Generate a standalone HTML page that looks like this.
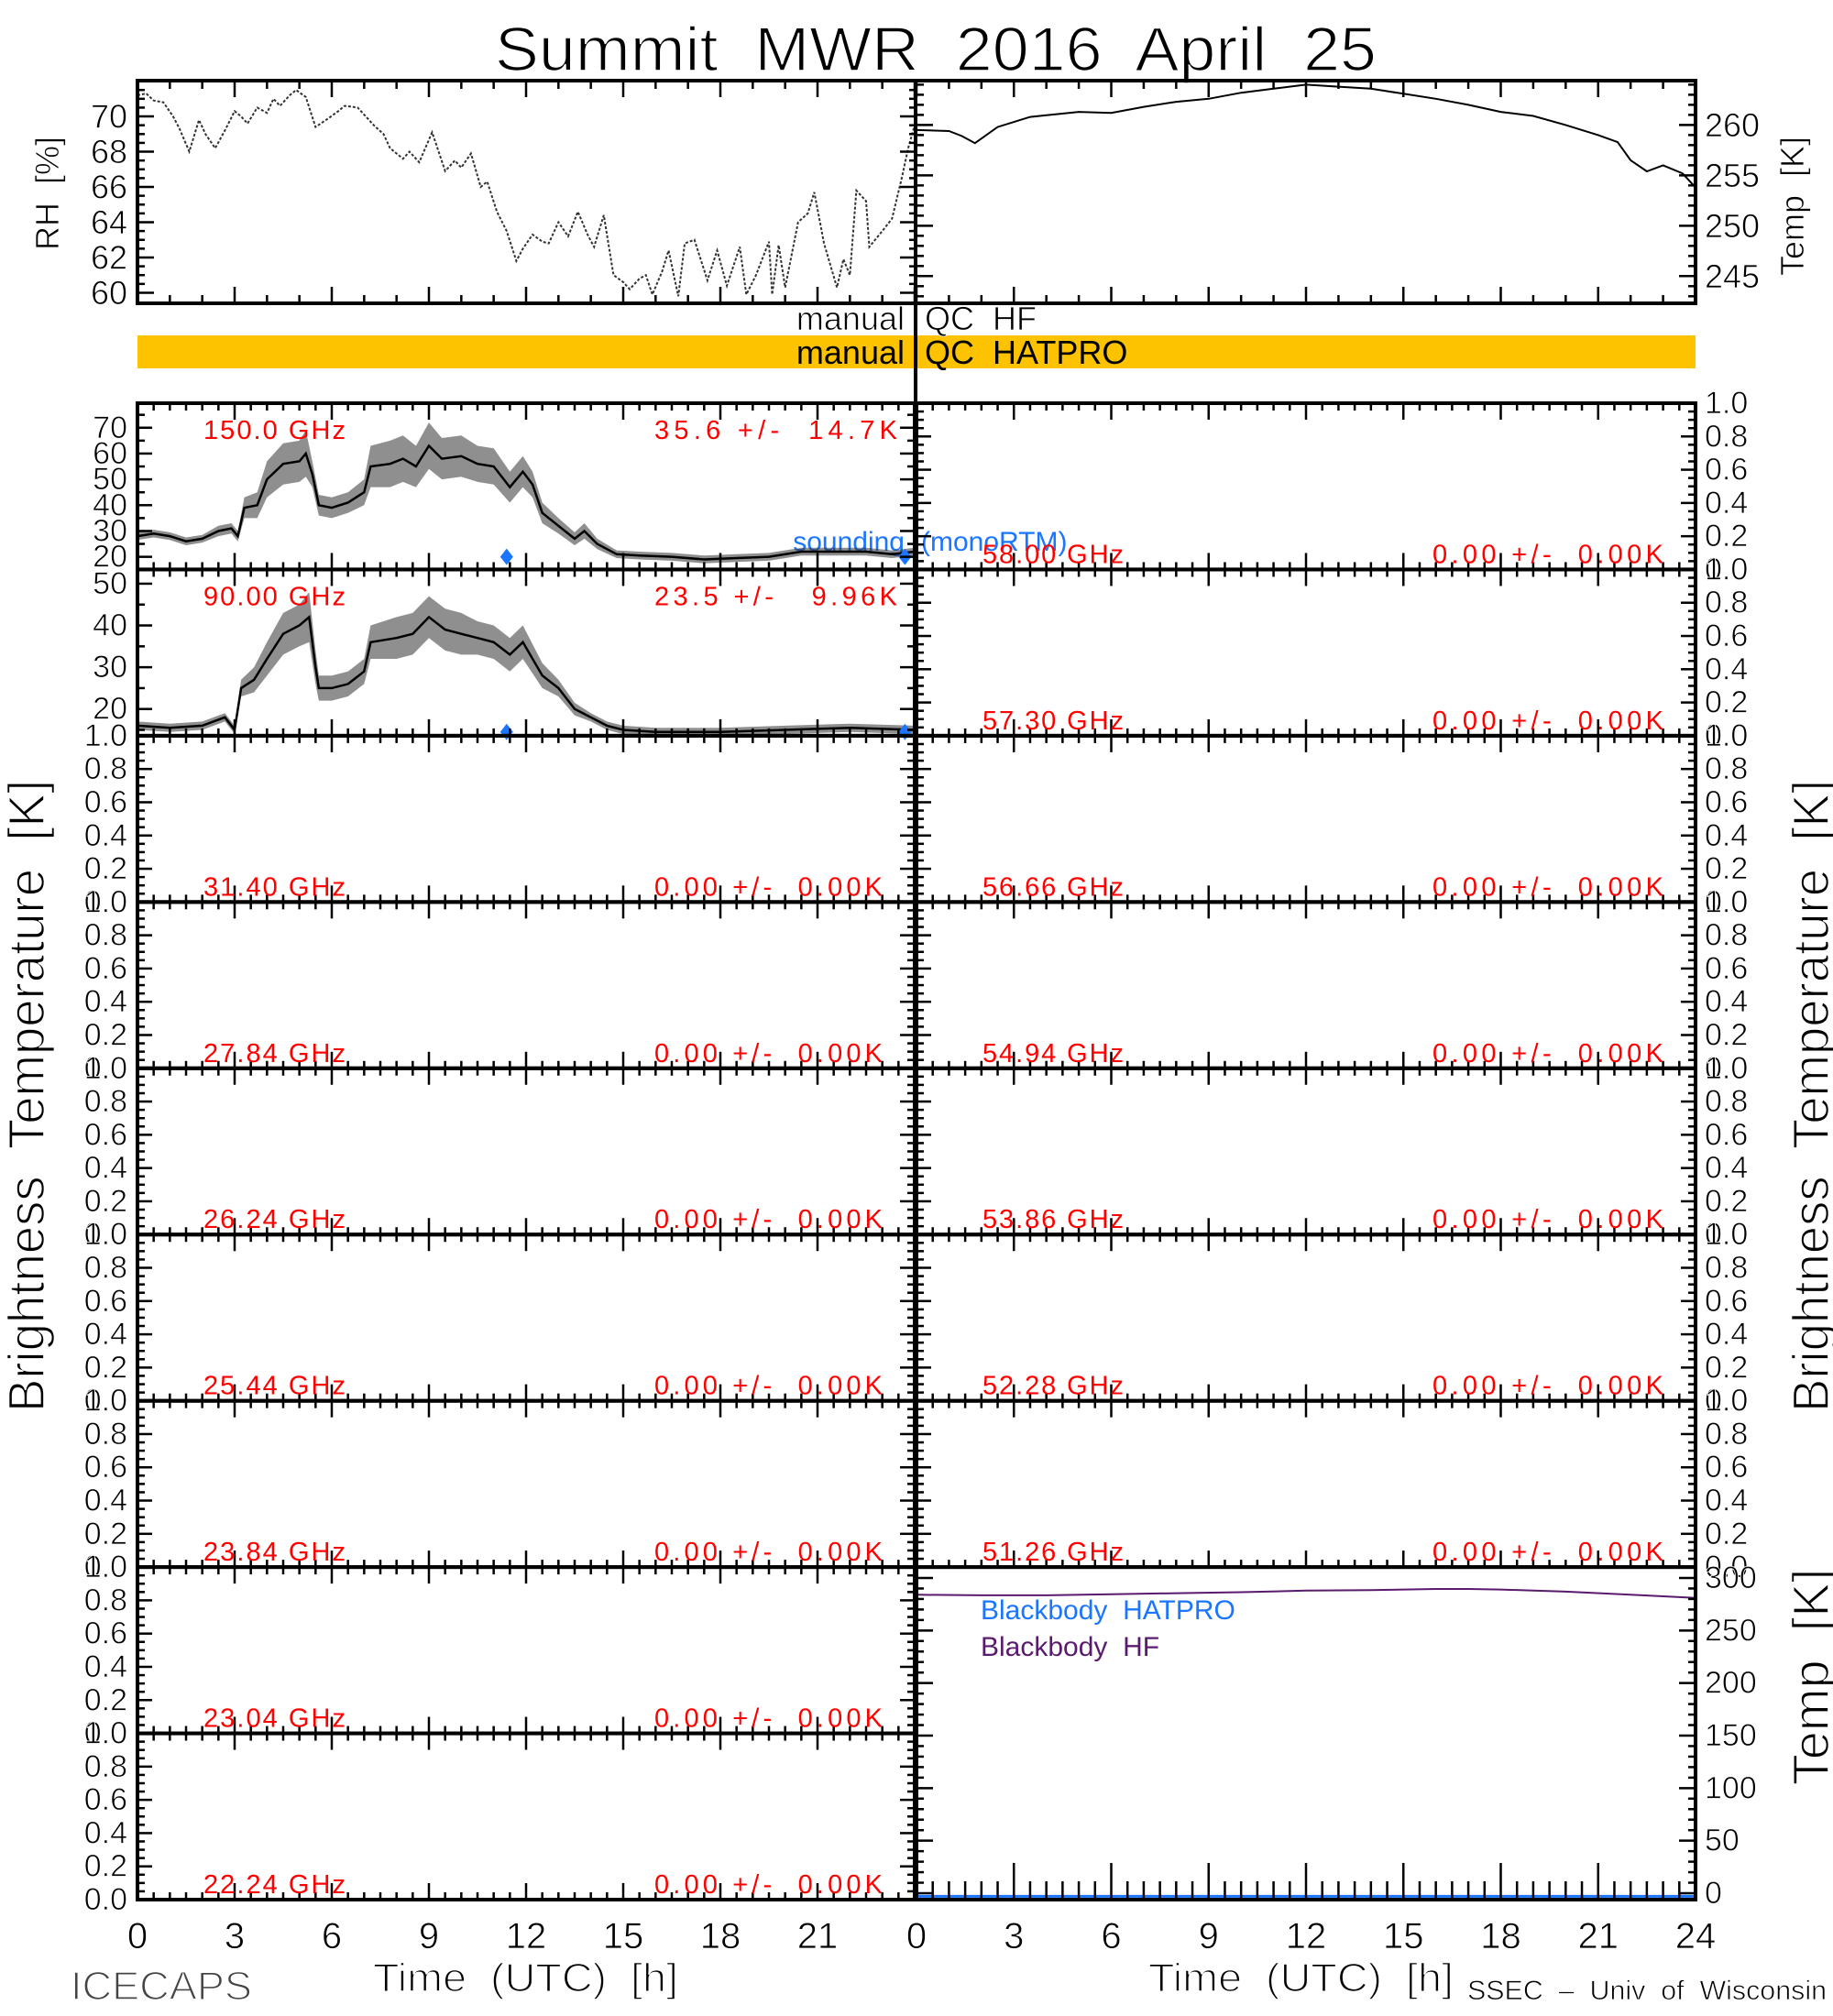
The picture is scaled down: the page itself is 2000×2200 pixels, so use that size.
<!DOCTYPE html>
<html><head><meta charset="utf-8"><style>
html,body{margin:0;padding:0;background:#fff;}
svg{display:block;}
text{font-family:"Liberation Sans Narrow","Liberation Sans",sans-serif;white-space:pre;}
.thin{stroke:#fff;stroke-width:1.6px;}
.thin2{stroke:#fff;stroke-width:0.8px;}
</style></head><body>
<svg id="chart" width="2000" height="2200" viewBox="0 0 2000 2200" xmlns="http://www.w3.org/2000/svg">
<rect x="0" y="0" width="2000" height="2200" fill="#fff"/>
<text class="thin" x="540" y="77" font-size="68" textLength="962" lengthAdjust="spacingAndGlyphs" font-family="Liberation Sans">Summit  MWR  2016  April  25</text>
<rect x="150" y="366" width="1700" height="36" fill="#FDC300"/>
<text class="thin2" x="987" y="360" font-size="36" text-anchor="end">manual</text>
<text class="thin2" x="1009" y="360" font-size="36">QC  HF</text>
<text x="987" y="397" font-size="36" text-anchor="end">manual</text>
<text x="1009" y="397" font-size="36">QC  HATPRO</text>
<text class="thin2" transform="translate(64,211) rotate(-90)" font-size="36" text-anchor="middle">RH  [%]</text>
<text class="thin2" transform="translate(1968,225) rotate(-90)" font-size="36" text-anchor="middle">Temp  [K]</text>
<text class="thin" transform="translate(48,1196) rotate(-90)" font-size="56" text-anchor="middle" textLength="690" lengthAdjust="spacingAndGlyphs">Brightness  Temperature  [K]</text>
<text class="thin" transform="translate(1995,1196) rotate(-90)" font-size="56" text-anchor="middle" textLength="690" lengthAdjust="spacingAndGlyphs">Brightness  Temperature  [K]</text>
<text class="thin" transform="translate(1995,1830) rotate(-90)" font-size="56" text-anchor="middle">Temp  [K]</text>
<text class="thin" x="77" y="2182" font-size="44" fill="#444" textLength="198" lengthAdjust="spacingAndGlyphs">ICECAPS</text>
<text class="thin" x="407" y="2173" font-size="44" textLength="333" lengthAdjust="spacingAndGlyphs">Time  (UTC)  [h]</text>
<text class="thin" x="1253" y="2173" font-size="44" textLength="333" lengthAdjust="spacingAndGlyphs">Time  (UTC)  [h]</text>
<text class="thin2" x="1601" y="2182" font-size="30" textLength="392" lengthAdjust="spacingAndGlyphs">SSEC  –  Univ  of  Wisconsin</text>
<text x="987" y="601" font-size="30" fill="#1a75ff" text-anchor="end">sounding</text>
<text x="1005" y="601" font-size="30" fill="#1a75ff">(monoRTM)</text>
<text x="1070" y="1767" font-size="30" fill="#1a75ff">Blackbody  HATPRO</text>
<text x="1070" y="1807" font-size="30" fill="#5a1a6e">Blackbody  HF</text>
</svg>
<script>
const rhHours=[0,0.27,0.5,0.8,1.1,1.3,1.6,1.9,2.1,2.4,2.7,3.0,3.2,3.4,3.7,4.0,4.2,4.4,4.7,4.9,5.2,5.5,5.9,6.2,6.4,6.8,7.0,7.3,7.6,7.8,8.2,8.4,8.7,9.1,9.3,9.5,9.8,10.0,10.3,10.6,10.8,11.1,11.4,11.7,11.9,12.2,12.5,12.7,13.0,13.3,13.6,13.9,14.1,14.4,14.7,15.0,15.2,15.5,15.7,15.9,16.2,16.4,16.7,16.9,17.2,17.6,17.9,18.2,18.6,18.8,19.1,19.5,19.6,19.8,20.0,20.4,20.7,20.9,21.2,21.6,21.8,22.0,22.2,22.5,22.6,23.0,23.3,23.6,23.8,24.0];
const rhValues=[71.2,71.3,70.9,70.8,70.0,69.3,68.0,69.8,69.0,68.2,69.2,70.3,70.0,69.6,70.5,70.2,71.0,70.6,71.2,71.5,71.1,69.4,69.9,70.3,70.6,70.5,70.1,69.5,69.0,68.2,67.6,68.0,67.4,69.1,68.0,66.9,67.5,67.1,67.9,66.0,66.3,64.6,63.5,61.8,62.5,63.3,62.9,62.8,64.0,63.2,64.6,63.3,62.6,64.4,61.0,60.6,60.2,60.8,61.0,59.9,61.2,62.4,59.8,62.8,63.0,60.7,62.4,60.4,62.6,59.9,61.0,62.9,59.9,62.7,60.3,64.0,64.5,65.7,62.8,60.3,61.9,61.0,65.8,65.2,62.6,63.5,64.2,66.5,68.2,69.5];
const tempHours=[0,1,1.4,1.8,2.5,3.5,5,6,7,8,9,10,11,12,13,14,15,16,17,18,19,20,21,21.6,22,22.5,23,23.6,24];
const tempValues=[259.5,259.4,258.9,258.2,259.8,260.8,261.3,261.2,261.8,262.3,262.6,263.2,263.6,264.0,263.8,263.6,263.1,262.6,262.0,261.3,260.9,260.0,259.0,258.3,256.5,255.4,256.0,255.2,253.8];
const tb150Hours=[0,0.5,1,1.5,2,2.5,2.9,3.1,3.3,3.7,4.0,4.5,5.0,5.2,5.4,5.6,6.0,6.5,7.0,7.2,7.8,8.2,8.6,9.0,9.4,10.0,10.5,11.0,11.5,11.9,12.2,12.5,13.0,13.5,13.8,14.2,14.8,15.5,16.5,17.5,18.5,19.5,20.5,21.5,22.5,23.3,24];
const tb150Values=[28,29,28,26,27,30,31,28,39,40,50,56,57,60,52,40,39,41,45,55,56,58,55,63,58,59,56,55,47,53,48,37,32,27,30,25,21,20.5,20,19,19.5,20,22,22,22,21,22];
const tb150Spread=[1.5,1.5,1.5,1.5,1.5,2,2,2,4,5,7,8,8,9,5,4,4,4,5,8,9,9,8,9,8,8,7,7,6,6,5,4,3,2.5,3,2,1.5,1.5,1.5,1.5,1.5,1.5,1.5,1.5,1.5,1.5,1.5];
const tb90Hours=[0,1,2,2.7,3.0,3.2,3.6,4.0,4.5,5.0,5.3,5.5,5.6,6.0,6.5,7.0,7.2,8.0,8.5,9.0,9.5,10.0,10.5,11.0,11.5,11.9,12.5,13.0,13.5,14.0,14.5,15.0,16.0,18.0,20.0,22.0,24.0];
const tb90Values=[16,15.5,16,18,15,25,27,32,38,40,42,30,25,25,26,29,36,37,38,42,39,38,37,36,33,36,28,25,20,18,16,15,14.5,14.5,15,15.5,15];
const tb90Spread=[1,1,1,1,1,2,3,4,5,5,6,4,3,3,3,3,4,5,5,5,5,5,4,4,4,4,3,2,1.5,1,1,1,1,1,1,1,1];
const soundingHours=[11.4,23.7];
const sounding150=[20,20];
const sounding90=[14.5,14.5];
const bbHours=[0,2,4,6,8,10,12,14,16,17,18,20,22,24];
const bbHfValues=[284,283.5,283.5,284.5,285.5,286.5,288,288.5,289.5,289.5,289,287,284,281];
const bbHatproValues=[-3,-3,-3,-3,-3,-3,-3,-3,-3,-3,-3,-3,-3,-3];
const leftFreqs=["150.0","90.00","31.40","27.84","26.24","25.44","23.84","23.04","22.24"];
const leftStats=["35.6 +/-  14.7K","23.5 +/-   9.96K","0.00 +/-  0.00K","0.00 +/-  0.00K","0.00 +/-  0.00K","0.00 +/-  0.00K","0.00 +/-  0.00K","0.00 +/-  0.00K","0.00 +/-  0.00K"];
const rightFreqs=["58.00","57.30","56.66","54.94","53.86","52.28","51.26"];
const rhTicks=[60,62,64,66,68,70];
const tempTicks=[245,250,255,260];
const tb150Ticks=[20,30,40,50,60,70];
const tb90Ticks=[20,30,40,50];
const unitTicks=["0.0","0.2","0.4","0.6","0.8","1.0"];
const bbTicks=[0,50,100,150,200,250,300];
const hourTicks=[0,3,6,9,12,15,18,21,24];

const svg=document.getElementById('chart');
const NS='http://www.w3.org/2000/svg';
function mk(tag,attrs){const e=document.createElementNS(NS,tag);for(const k in attrs)e.setAttribute(k,attrs[k]);svg.appendChild(e);return e;}
const LX0=150,LX1=998,RX0=1000,RX1=1850;
const xL=h=>LX0+h*(LX1-LX0)/24;
const xR=h=>RX0+h*(RX1-RX0)/24;
const TOP=440,BOT=2073,PH=(BOT-TOP)/9;
const pTop=i=>TOP+i*PH, pBot=i=>TOP+(i+1)*PH;
function yScale(top,bot,min,max){return v=>bot-(v-min)*(bot-top)/(max-min);}
const RHT=88,RHB=331;
const yRH=yScale(RHT,RHB,59.4,72.03);
const yT=yScale(RHT,RHB,242.3,264.4);

function line(x1,y1,x2,y2,w){return mk('line',{x1:x1,y1:y1,x2:x2,y2:y2,stroke:'#000','stroke-width':w||2});}
function xticks(xf,top,bot,step,major,minL,majL,doTop){
  for(let h=0;h<=24.001;h+=step){const isM=Math.abs(h/major-Math.round(h/major))<1e-6;const L=isM?majL:minL;const x=xf(h);
    line(x,bot,x,bot-L,2.5); if(doTop) line(x,top,x,top+L,2.5);}
}
function yticks(x,dir,ys,min,max,step,major,minL,majL){
  for(let v=min;v<=max+1e-6;v+=step){const isM=Math.abs(v/major-Math.round(v/major))<1e-6;const y=ys(v);line(x,y,x+dir*(isM?majL:minL),y,2.5);}
}
function label(x,y,t,size,anchor,fill){const e=mk('text',{x:x,y:y,'font-size':size,'text-anchor':anchor||'start',fill:fill||'#000','dominant-baseline':'central'});e.textContent=t;return e;}
function pathOf(xs,ys,hrs,vals){return hrs.map((h,i)=>(i?'L':'M')+xs(h).toFixed(1)+','+ys(vals[i]).toFixed(1)).join(' ');}
function band(xs,ys,hrs,vals,spr){const up=hrs.map((h,i)=>xs(h).toFixed(1)+','+ys(vals[i]+spr[i]).toFixed(1));const dn=hrs.map((h,i)=>xs(h).toFixed(1)+','+ys(vals[i]-spr[i]).toFixed(1)).reverse();return 'M'+up.join(' L')+' L'+dn.join(' L')+' Z';}

let e;
e=mk('path',{d:pathOf(xL,yRH,rhHours,rhValues),fill:'none',stroke:'#333','stroke-width':2,'stroke-dasharray':'3,2'});


e=mk('path',{d:pathOf(xR,yT,tempHours,tempValues),fill:'none',stroke:'#000','stroke-width':2});


mk('rect',{x:LX0,y:RHT,width:RX1-LX0,height:RHB-RHT,fill:'none',stroke:'#000','stroke-width':4});
xticks(xL,RHT,RHB,1,3,9,18,true);
xticks(xR,RHT,RHB,1,3,9,18,true);
yticks(LX0,1,yRH,60,72,0.5,2,8,18);
yticks(RX0,-1,yRH,60,72,0.5,2,8,18);
yticks(RX0,1,yT,243,264,1,5,8,18);
yticks(RX1,-1,yT,243,264,1,5,8,18);
rhTicks.forEach(v=>{e=label(139,yRH(v),String(v),36,'end');
e.setAttribute('class','thin2');

});
tempTicks.forEach(v=>{e=label(1860,yT(v),String(v),36,'start');
e.setAttribute('class','thin2');

});

for(let i=0;i<9;i++){
  const t=pTop(i),b=pBot(i);
  let ys,ticks,min,max,step,maj;
  if(i===0){ys=yScale(t,b,15.1,79.5);ticks=tb150Ticks;min=20;max=75;step=5;maj=10;}
  else if(i===1){ys=yScale(t,b,13.6,53.4);ticks=tb90Ticks;min=15;max=50;step=5;maj=10;}
  else{ys=yScale(t,b,0,1);ticks=unitTicks.map(Number);min=0;max=1;step=0.05;maj=0.2;}
  if(i===0){
    e=mk('path',{d:band(xL,ys,tb150Hours,tb150Values,tb150Spread),fill:'#333','fill-opacity':0.55,stroke:'none'});
    
    
    e=mk('path',{d:pathOf(xL,ys,tb150Hours,tb150Values),fill:'none',stroke:'#000','stroke-width':2.5});
    
    
    soundingHours.forEach((h,k)=>{const x=xL(h),y=ys(sounding150[k]);
      e=mk('path',{d:`M${x},${y-9} L${x+7},${y} L${x},${y+9} L${x-7},${y} Z`,fill:'#1a75ff'});
      
      });
  }
  if(i===1){
    e=mk('path',{d:band(xL,ys,tb90Hours,tb90Values,tb90Spread),fill:'#333','fill-opacity':0.55,stroke:'none'});
    
    
    e=mk('path',{d:pathOf(xL,ys,tb90Hours,tb90Values),fill:'none',stroke:'#000','stroke-width':2.5});
    
    
    soundingHours.forEach((h,k)=>{const x=xL(h),y=ys(sounding90[k]);
      e=mk('path',{d:`M${x},${y-9} L${x+7},${y} L${x},${y+9} L${x-7},${y} Z`,fill:'#1a75ff'});
      
      });
  }
  e=mk('rect',{x:LX0,y:t,width:LX1-LX0,height:b-t,fill:'none',stroke:'#000','stroke-width':4});
  
  
  xticks(xL,t,b,0.5,3,8,18,true);
  yticks(LX0,1,ys,min,max,step,maj,8,16);
  yticks(LX1,-1,ys,min,max,step,maj,8,16);
  ticks.forEach(v=>{e=label(139,ys(v),i>1?v.toFixed(1):String(v),34,'end');
    e.setAttribute('class','thin2');
    
    });
  const ly=i<2?t+30:b-16;
  e=label(222,ly,leftFreqs[i]+' GHz',29,'start','#ff0000');
  e.setAttribute('textLength','155');
  
  
  const sw=i===0?265:(i===1?265:249);
  const sx=i<2?979:963;
  e=label(sx-sw,ly,leftStats[i],29,'start','#ff0000');
  e.setAttribute('textLength',String(sw));
  
  
}
for(let i=0;i<7;i++){
  const t=pTop(i),b=pBot(i);const ys=yScale(t,b,0,1);
  e=mk('rect',{x:RX0,y:t,width:RX1-RX0,height:b-t,fill:'none',stroke:'#000','stroke-width':4});
  
  
  xticks(xR,t,b,0.5,3,8,18,true);
  yticks(RX0,1,ys,0,1,0.05,0.2,8,16);
  yticks(RX1,-1,ys,0,1,0.05,0.2,8,16);
  unitTicks.forEach(s=>{e=label(1860,ys(Number(s)),s,34,'start');
    e.setAttribute('class','thin2');
    
    });
  e=label(1072,b-16,rightFreqs[i]+' GHz',29,'start','#ff0000');
  e.setAttribute('textLength','154');
  
  
  e=label(1563,b-16,'0.00 +/-  0.00K',29,'start','#ff0000');
  e.setAttribute('textLength','252');
  
  
}
{
  const t=pTop(7),b=BOT;const ys=yScale(1722,2066,0,300);
  const ysc=v=>Math.min(b-2,ys(v));
  e=mk('path',{d:bbHours.map((h,k)=>(k?'L':'M')+xR(h).toFixed(1)+','+ysc(bbHatproValues[k]).toFixed(1)).join(' '),fill:'none',stroke:'#1a75ff','stroke-width':3});
  
  
  e=mk('path',{d:pathOf(xR,ys,bbHours,bbHfValues),fill:'none',stroke:'#5a1a6e','stroke-width':2});
  
  
  mk('rect',{x:RX0,y:t,width:RX1-RX0,height:b-t,fill:'none',stroke:'#000','stroke-width':4});
  xticks(xR,t,b,0.5,3,20,40,false);
  yticks(RX0,1,ys,0,300,10,50,8,18);
  yticks(RX1,-1,ys,0,300,10,50,8,18);
  bbTicks.forEach(v=>{e=label(1860,ys(v),String(v),34,'start');
    e.setAttribute('class','thin2');
    
    });
}
line(999,RHT,999,BOT,4);
hourTicks.slice(0,8).forEach(h=>{e=label(xL(h),2113,String(h),40,'middle');
  e.setAttribute('class','thin2');
  
  });
hourTicks.forEach(h=>{e=label(xR(h),2113,String(h),40,'middle');
  e.setAttribute('class','thin2');
  
  });
</script>
</body></html>
